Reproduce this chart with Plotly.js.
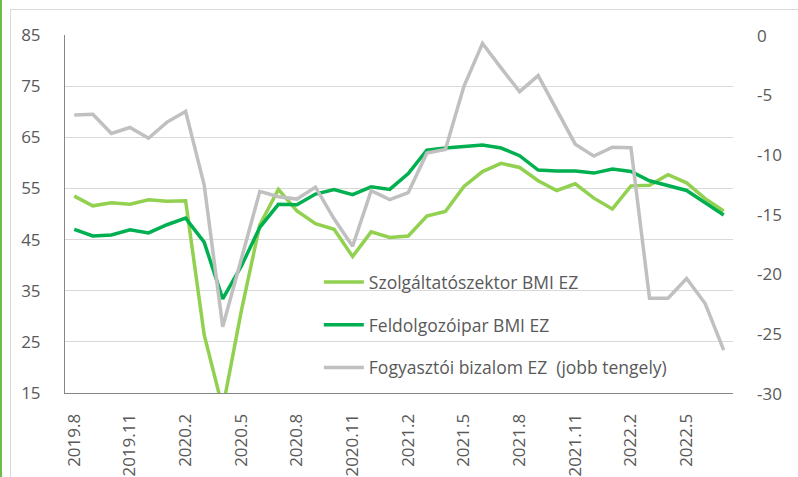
<!DOCTYPE html>
<html>
<head>
<meta charset="utf-8">
<script src="https://cdn.plot.ly/plotly-3.0.1.min.js"></script>
<style>
  html, body { margin: 0; padding: 0; background: #ffffff; }
  #wrap { position: relative; width: 798px; height: 477px; overflow: hidden; }
  #greenbar { position: absolute; left: 0; top: 0; width: 2px; height: 477px; background: #6cbd45; z-index: 2; }
  #frame { position: absolute; left: 10px; top: 9px; width: 800px; height: 480px; border-top: 1px solid #d9d9d9; border-left: 1px solid #d9d9d9; z-index: 2; pointer-events: none; }
  #chart { position: absolute; left: 0; top: 0; width: 798px; height: 477px; }
</style>
</head>
<body>
<div id="wrap">
  <div id="chart"></div>
  <div id="frame"></div>
  <div id="greenbar"></div>
</div>
<script>
// Months (category axis)
const months = [
  "2019.8","2019.9","2019.10","2019.11","2019.12",
  "2020.1","2020.2","2020.3","2020.4","2020.5","2020.6","2020.7","2020.8","2020.9","2020.10","2020.11","2020.12",
  "2021.1","2021.2","2021.3","2021.4","2021.5","2021.6","2021.7","2021.8","2021.9","2021.10","2021.11","2021.12",
  "2022.1","2022.2","2022.3","2022.4","2022.5","2022.6","2022.7"
];

// Services PMI euro area (left axis)
const servicesPMI = [
  53.5, 51.6, 52.2, 51.9, 52.8,
  52.5, 52.6, 26.4, 12.0, 31.0, 47.9, 54.8, 50.6, 48.1, 47.0, 41.7, 46.5,
  45.4, 45.7, 49.6, 50.5, 55.4, 58.3, 59.9, 59.1, 56.5, 54.6, 55.9, 53.1,
  51.0, 55.5, 55.6, 57.7, 56.1, 53.0, 50.6
];

// Manufacturing PMI euro area (left axis)
const manufPMI = [
  47.0, 45.7, 45.9, 46.9, 46.3,
  47.9, 49.2, 44.5, 33.4, 39.8, 47.4, 51.9, 51.8, 53.9, 54.8, 53.8, 55.3,
  54.8, 57.9, 62.5, 62.9, 63.2, 63.5, 62.9, 61.4, 58.6, 58.4, 58.4, 58.0,
  58.8, 58.3, 56.5, 55.6, 54.6, 52.2, 49.8
];

// Consumer confidence euro area (right axis)
const consumerConf = [
  -6.7, -6.65, -8.25, -7.75, -8.65,
  -7.3, -6.4, -12.55, -24.45, -18.8, -13.1, -13.55, -13.75, -12.75, -15.4, -17.7, -13.05,
  -13.8, -13.2, -9.9, -9.6, -4.3, -0.7, -2.75, -4.75, -3.4, -6.3, -9.15, -10.15,
  -9.4, -9.45, -22.05, -22.05, -20.4, -22.5, -26.4
];

const seriesNames = [
  "Szolgáltatószektor BMI EZ",
  "Feldolgozóipar BMI EZ",
  "Fogyasztói bizalom EZ  (jobb tengely)"
];

const xTickVals = ["2019.8","2019.11","2020.2","2020.5","2020.8","2020.11","2021.2","2021.5","2021.8","2021.11","2022.2","2022.5"];
const leftTickVals = [15, 25, 35, 45, 55, 65, 75, 85];
const rightTickVals = [-30, -25, -20, -15, -10, -5, 0];
const rightTickText = ["-30", "-25", "-20", "-15", "-10", "-5", "0"];

const FONT = "'Open Sans', 'Noto Sans', sans-serif";
const TXT = "#595959";

const traces = [
  { x: months, y: servicesPMI, name: seriesNames[0], type: "scatter", mode: "lines",
    line: { color: "#92d050", width: 3.5 }, legendgroup: "a", yaxis: "y" },
  { x: months, y: manufPMI, name: seriesNames[1], type: "scatter", mode: "lines",
    line: { color: "#00b050", width: 3.5 }, legendgroup: "b", yaxis: "y" },
  { x: months, y: consumerConf, name: seriesNames[2], type: "scatter", mode: "lines",
    line: { color: "#c0c0c0", width: 3.5 }, legendgroup: "c", yaxis: "y2" }
];

// Right-axis tick labels, left-aligned next to the plot area
const rightLabels = rightTickVals.map((v, i) => ({
  x: 1, xref: "paper", xanchor: "left", xshift: 22,
  y: v, yref: "y2", yanchor: "middle",
  text: rightTickText[i], showarrow: false,
  font: { family: FONT, size: 17, color: TXT }
}));

const layout = {
  width: 798, height: 477,
  margin: { l: 65, r: 65, t: 35, b: 84, pad: 0 },
  paper_bgcolor: "rgba(0,0,0,0)",
  plot_bgcolor: "#ffffff",
  font: { family: FONT, size: 16, color: TXT },
  showlegend: true,
  legend: {
    x: 0.38, xanchor: "left", y: 0.36, yanchor: "top",
    bgcolor: "rgba(0,0,0,0)", borderwidth: 0,
    font: { family: FONT, size: 17.5, color: TXT },
    tracegroupgap: 17, itemwidth: 40, traceorder: "grouped"
  },
  xaxis: {
    type: "category",
    tickmode: "array", tickvals: xTickVals, ticktext: xTickVals,
    tickangle: -90,
    showgrid: false, zeroline: false,
    showline: true, linecolor: "#868686", linewidth: 1,
    ticks: "", ticklabelstandoff: 13,
    tickfont: { family: FONT, size: 17, color: TXT },
    range: [-0.5, months.length - 0.5]
  },
  yaxis: {
    range: [15, 85], tickmode: "array", tickvals: leftTickVals,
    showgrid: true, gridcolor: "#d9d9d9", gridwidth: 1,
    zeroline: false, showline: true, linecolor: "#868686", linewidth: 1,
    ticks: "", ticklabelstandoff: 20,
    tickfont: { family: FONT, size: 17, color: TXT }
  },
  yaxis2: {
    range: [-30, 0], overlaying: "y", side: "right",
    tickmode: "array", tickvals: rightTickVals,
    showgrid: false, zeroline: false, showline: false,
    showticklabels: false, ticks: ""
  },
  annotations: rightLabels
};

Plotly.newPlot("chart", traces, layout, { displayModeBar: false, staticPlot: true });
</script>
</body>
</html>
